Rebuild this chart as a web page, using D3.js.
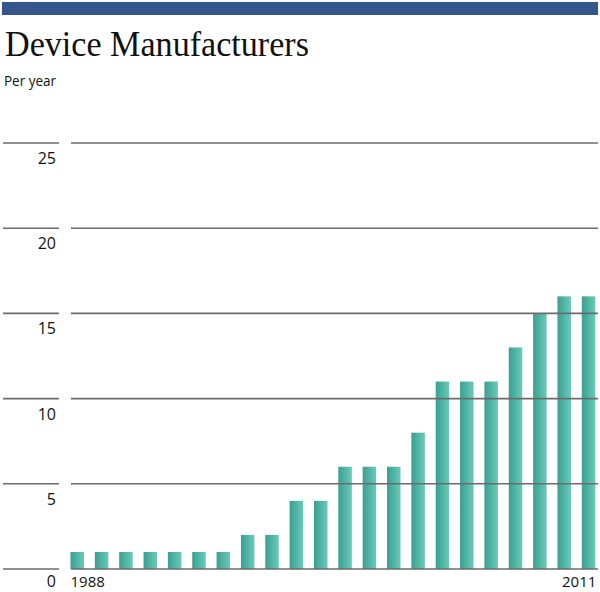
<!DOCTYPE html>
<html>
<head>
<meta charset="utf-8">
<script src="https://cdn.jsdelivr.net/npm/d3@7"></script>
<style>
html,body{margin:0;padding:0;background:#fff;}
svg{display:block;}
</style>
</head>
<body>
<svg id="chart" width="600" height="592"></svg>
<script>
const title = "Device Manufacturers";
const subtitle = "Per year";
const categories = ["1988","b","c","d","e","f","g","h","i","j","k","l","m","n","o","p","q","r","s","t","u","2011"];
const values = [1,1,1,1,1,1,1,2,2,4,4,6,6,6,8,11,11,11,13,15,16,16];
const yTicks = [0,5,10,15,20,25];
const xTickLabels = {"1988":"1988","2011":"2011"};

const svg = d3.select("#chart");
const defs = svg.append("defs");
const grad = defs.append("linearGradient").attr("id","barGrad")
  .attr("x1","0%").attr("x2","100%").attr("y1","0%").attr("y2","0%");
grad.append("stop").attr("offset","0%").attr("stop-color","#3aa091");
grad.append("stop").attr("offset","100%").attr("stop-color","#6acab9");

svg.append("rect").attr("x",2).attr("y",2).attr("width",596).attr("height",13).attr("fill","#34568a");

svg.append("text").attr("x",5).attr("y",56)
  .attr("font-family","Liberation Serif, serif").attr("font-size",35)
  .attr("textLength",304).attr("lengthAdjust","spacingAndGlyphs")
  .attr("fill","#111").text(title);
svg.append("text").attr("x",4).attr("y",86)
  .attr("font-family","Open Sans, sans-serif").attr("font-size",15)
  .attr("textLength",52).attr("lengthAdjust","spacingAndGlyphs")
  .attr("fill","#111").text(subtitle);

const y = d3.scaleLinear().domain([0,25]).range([569,143]);
const x = d3.scaleBand().domain(categories).range([70.5,595.3]).paddingInner(0.445).paddingOuter(0);

svg.append("g").selectAll("rect").data(values).join("rect")
  .attr("x",(d,i)=>x(categories[i]))
  .attr("width",x.bandwidth())
  .attr("y",d=>y(d))
  .attr("height",d=>y(0)-y(d))
  .attr("fill","url(#barGrad)");

const grid = svg.append("g");
yTicks.forEach(t=>{
  grid.append("line").attr("x1",3).attr("x2",59).attr("y1",y(t)).attr("y2",y(t))
    .attr("stroke","#6b6b6b").attr("stroke-width",1.6);
  grid.append("line").attr("x1",71).attr("x2",598).attr("y1",y(t)).attr("y2",y(t))
    .attr("stroke","#6b6b6b").attr("stroke-width",1.6);
  grid.append("text").attr("x",56).attr("y",Math.min(y(t)+21,587)).attr("text-anchor","end")
    .attr("font-family","Open Sans, sans-serif").attr("font-size",16).attr("fill","#111").text(t);
});

const xa = svg.append("g");
Object.keys(xTickLabels).forEach((k,i)=>{
  const isLast = k===categories[categories.length-1];
  xa.append("text")
    .attr("x", isLast ? x(k)+x.bandwidth()+1 : x(k))
    .attr("y",587)
    .attr("text-anchor", isLast ? "end" : "start")
    .attr("font-family","Open Sans, sans-serif").attr("font-size",15).attr("fill","#111")
    .text(xTickLabels[k]);
});
</script>
</body>
</html>
